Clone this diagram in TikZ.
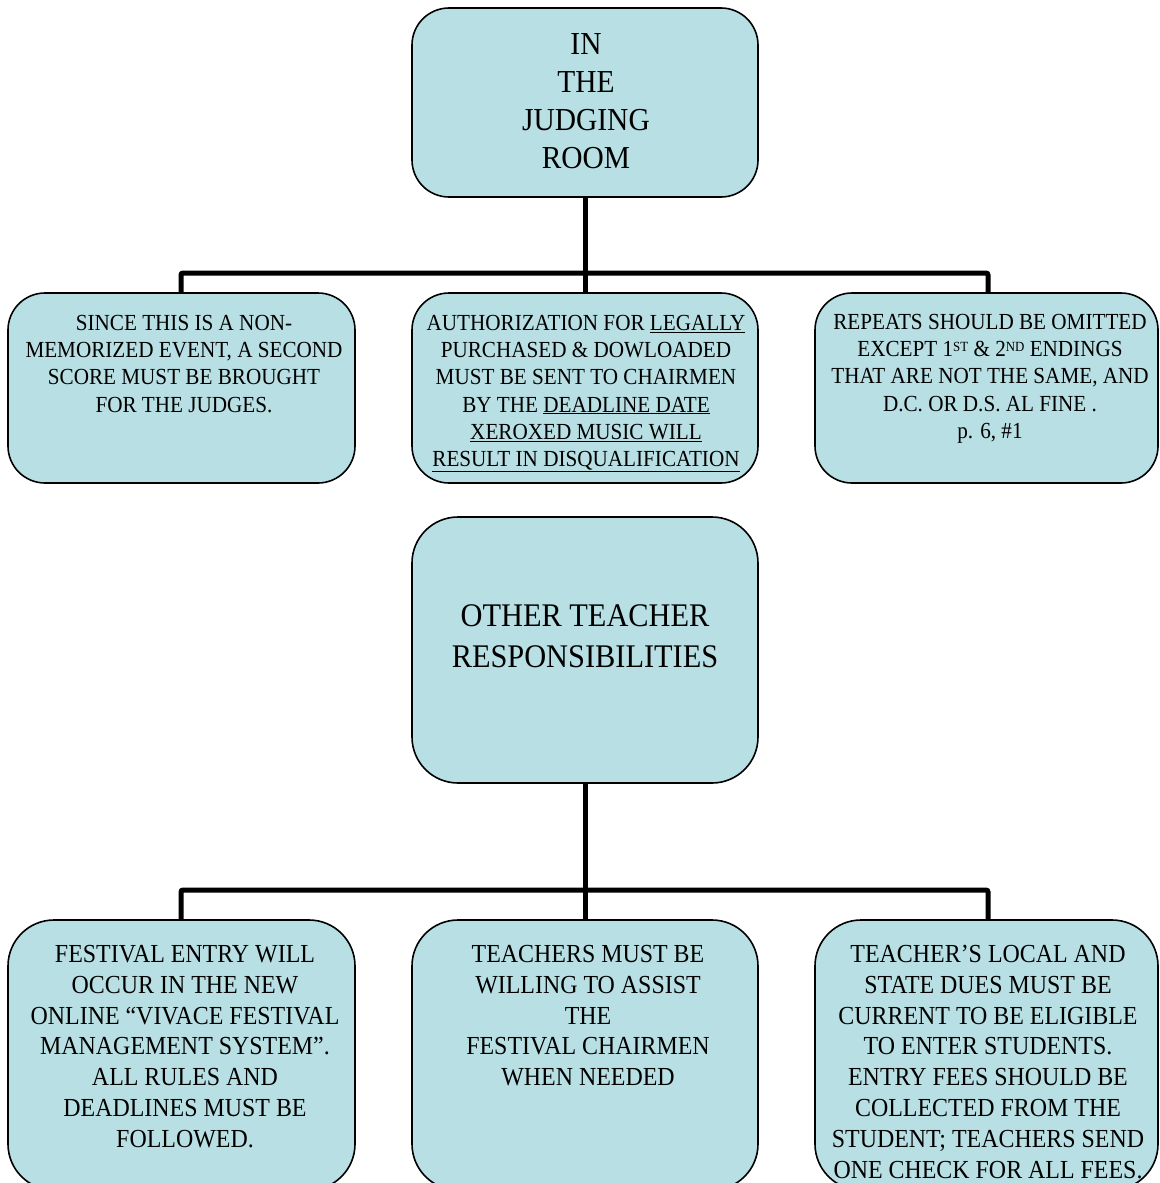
\documentclass[tikz,border=0pt]{standalone}
\usepackage{fontspec}
\setmainfont[FakeStretch=0.92]{Liberation Serif}
\definecolor{boxfill}{RGB}{184,223,227}
\begin{document}
\begin{tikzpicture}[x=1pt,y=-1pt,
  box/.style={draw=black, line width=1.6pt, fill=boxfill, inner sep=0pt, outer sep=0pt, anchor=north west},
  conn/.style={draw=black, line width=5pt, rounded corners=2pt},
  ttop/.style={anchor=north, inner sep=0pt, align=center, font=\fontsize{32}{38}\selectfont},
  tsmall/.style={anchor=north, inner sep=0pt, align=center, font=\fontsize{23}{27.2}\selectfont},
  tmid/.style={anchor=north, inner sep=0pt, align=center, font=\fontsize{33}{41}\selectfont},
  tbot/.style={anchor=north, inner sep=0pt, align=center, font=\fontsize{26}{30.8}\selectfont},
  sup/.style={}]
\useasboundingbox (0,0) rectangle (1159,1183);
\clip (0,0) rectangle (1159,1183);

% boxes
\node[box, rounded corners=37pt, minimum width=346pt, minimum height=189pt] (top) at (412,8) {};
\node[box, rounded corners=37pt, minimum width=347pt, minimum height=190pt] (l1) at (8,293) {};
\node[box, rounded corners=37pt, minimum width=346pt, minimum height=190pt] (m1) at (412,293) {};
\node[box, rounded corners=37pt, minimum width=343pt, minimum height=190pt] (r1) at (815,293) {};
\node[box, rounded corners=46pt, minimum width=346pt, minimum height=266pt] (mid) at (412,517) {};
\node[box, rounded corners=46pt, minimum width=347pt, minimum height=270pt] (l2) at (8,920) {};
\node[box, rounded corners=46pt, minimum width=346pt, minimum height=270pt] (m2) at (412,920) {};
\node[box, rounded corners=46pt, minimum width=343pt, minimum height=270pt] (r2) at (815,920) {};

% connectors
\draw[conn] (top.south) -- ++(0,76) coordinate (j1);
\draw[conn] (l1.north -| 181,0) |- (j1) -| (r1.north -| 988,0);
\draw[conn] (j1) -- (m1.north);
\draw[conn] (mid.south) -- ++(0,107) coordinate (j2);
\draw[conn] (l2.north -| 181,0) |- (j2) -| (r2.north -| 988,0);
\draw[conn] (j2) -- (m2.north);

% texts
\node[ttop] (ttop) at (586,33) {IN\\THE\\JUDGING\\ROOM};
\node[tsmall] (tl1) at (184,315) {SINCE THIS IS A NON-\\MEMORIZED EVENT, A SECOND\\SCORE MUST BE BROUGHT\\FOR THE JUDGES.};
\node[tsmall] (tm1) at (586,315) {AUTHORIZATION FOR \underline{LEGALLY}\\PURCHASED \& DOWLOADED\\MUST BE SENT TO CHAIRMEN\\BY THE \underline{DEADLINE DATE}\\\underline{XEROXED MUSIC WILL}\\\underline{RESULT IN DISQUALIFICATION}};
\node[tsmall] (tr1) at (990,314) {REPEATS SHOULD BE OMITTED\\EXCEPT 1\raisebox{0.5ex}{\fontsize{14}{14}\selectfont ST} \& 2\raisebox{0.5ex}{\fontsize{14}{14}\selectfont ND} ENDINGS\\THAT ARE NOT THE SAME, AND\\D.C. OR D.S. AL FINE .\\p. 6, \#1};
\node[tmid] (tmid) at (585,604) {OTHER TEACHER\\RESPONSIBILITIES};
\node[tbot] (tl2) at (185,945) {FESTIVAL ENTRY WILL\\OCCUR IN THE NEW\\ONLINE “VIVACE FESTIVAL\\MANAGEMENT SYSTEM”.\\ALL RULES AND\\DEADLINES MUST BE\\FOLLOWED.};
\node[tbot] (tm2) at (588,945) {TEACHERS MUST BE\\WILLING TO ASSIST\\THE\\FESTIVAL CHAIRMEN\\WHEN NEEDED};
\node[tbot] (tr2) at (988,945) {TEACHER’S LOCAL AND\\STATE DUES MUST BE\\CURRENT TO BE ELIGIBLE\\TO ENTER STUDENTS.\\ENTRY FEES SHOULD BE\\COLLECTED FROM THE\\STUDENT; TEACHERS SEND\\ONE CHECK FOR ALL FEES.};
\end{tikzpicture}
\end{document}
